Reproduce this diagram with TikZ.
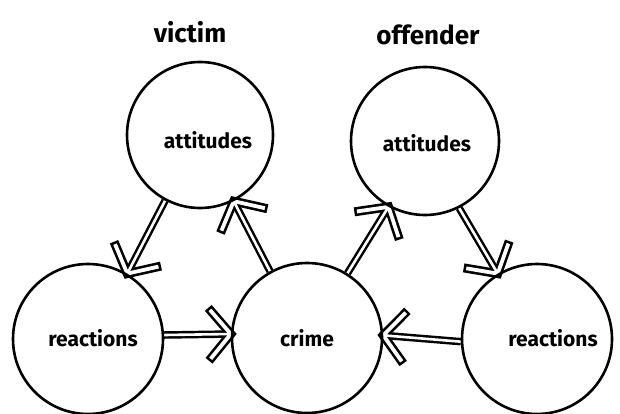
\documentclass[tikz,border=0pt]{standalone}
\usepackage{fontspec}
\setmainfont{Fira Sans}
\usetikzlibrary{calc}

% hollow hand-style arrow: double-line shaft with an outlined chevron head
\newcommand{\hwarrow}[2]{%
  \draw[shaftout] (#1) -- (#2);
  \draw[headout] ($(#2)!\armlen!\armang:(#1)$) -- (#2) -- ($(#2)!\armlen!-\armang:(#1)$);
  \draw[shaftin] (#1) -- (#2);
  \draw[headin] ($(#2)!\armlen!\armang:(#1)$) -- (#2) -- ($(#2)!\armlen!-\armang:(#1)$);
}
\newcommand{\armlen}{30pt}
\newcommand{\armang}{50}

\tikzset{
  bubble/.style={draw, circle, line width=2.6pt, minimum size=#1, inner sep=0pt},
  lbl/.style={font=\bfseries\fontsize{21}{24}\selectfont, inner sep=0pt},
  title/.style={font=\bfseries\fontsize{26}{28}\selectfont, inner sep=0pt},
  shaftout/.style={line width=7.5pt, line cap=butt},
  shaftin/.style={white, line width=2.6pt, line cap=butt},
  headout/.style={line width=9pt, line cap=rect, line join=miter},
  headin/.style={white, line width=3.8pt, line cap=rect, line join=miter},
}

\begin{document}
\begin{tikzpicture}[x=1pt, y=-1pt]
  \useasboundingbox (0,0) rectangle (620,414);

  % circle positions (outlines drawn after the arrows so they stay unbroken)
  \path (200,135) node[bubble=146pt, draw=none] (va) {}
        (425,141) node[bubble=148pt, draw=none] (oa) {}
        (88,339)  node[bubble=150pt, draw=none] (lr) {}
        (307,338) node[bubble=150pt, draw=none] (cr) {}
        (537,339) node[bubble=150pt, draw=none] (rr) {};

  % connectors
  \hwarrow{va.242}{lr.59}
  \hwarrow{cr.119}{va.297}
  \hwarrow{cr.58}{oa.241}
  \hwarrow{oa.297}{rr.121}
  \hwarrow{lr.3}{cr.177}
  \hwarrow{rr.182}{cr.2}

  % circle outlines
  \node[bubble=146pt] (vac) at (va) {};
  \node[bubble=148pt] (oac) at (oa) {};
  \node[bubble=150pt] (lrc) at (lr) {};
  \node[bubble=150pt] (crc) at (cr) {};
  \node[bubble=150pt] (rrc) at (rr) {};

  % texts
  \node[lbl] (tva) at (208,140) {attitudes};
  \node[lbl] (toa) at (427,143) {attitudes};
  \node[lbl] (tlr) at (93,338)  {reactions};
  \node[lbl] (tcr) at (307,338) {crime};
  \node[lbl] (trr) at (553,338) {reactions};
  \node[title] (victim)   at (190,32) {victim};
  \node[title] (offender) at (428,35) {offender};
\end{tikzpicture}
\end{document}
